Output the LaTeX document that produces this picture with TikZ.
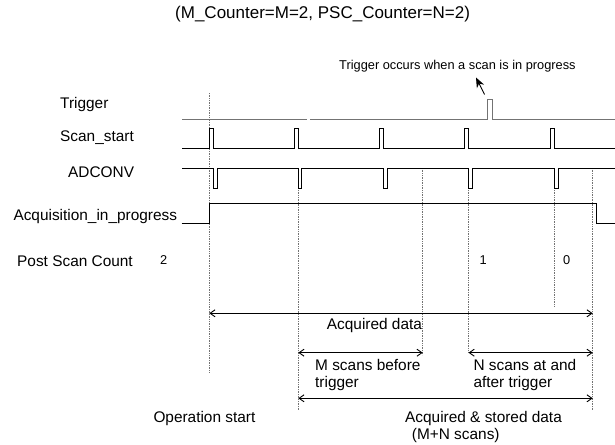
\documentclass[tikz,border=0pt]{standalone}
\usepackage{fontspec}
\setmainfont{Liberation Sans}
\usetikzlibrary{arrows.meta}
\begin{document}
\begin{tikzpicture}[x=1pt,y=-1pt,
  wave/.style={line width=1pt, black},
  trigwave/.style={line width=1pt, black!55},
  guide/.style={densely dotted, line width=0.7pt, black!55},
  dim/.style={line width=0.9pt, {Straight Barb[length=5pt,width=7pt]}-{Straight Barb[length=5pt,width=7pt]}},
  lbl/.style={font=\fontsize{15.4}{17}\selectfont, anchor=base west, inner sep=0pt},
  sml/.style={font=\fontsize{12.8}{14}\selectfont, anchor=base west, inner sep=0pt},
  ttl/.style={font=\fontsize{17}{19}\selectfont, anchor=base west, inner sep=0pt}]
\useasboundingbox (0,0) rectangle (615,444);

% title and annotation
\node[ttl] (title) at (175,18.5) {(M\_Counter=M=2, PSC\_Counter=N=2)};
\node[sml] (note) at (339,69.3) {Trigger occurs when a scan is in progress};
\coordinate (notetip) at (476,77.5);
\coordinate (notetail) at (484.5,94.5);
\draw[line width=0.9pt, -{Stealth[length=10pt,width=8pt]}] (notetail) -- (notetip);

% signal names
\node[lbl] (trig) at (60,108.3) {Trigger};
\node[lbl] (scan) at (60,141) {Scan\_start};
\node[lbl] (adc) at (68,177) {ADCONV};
\node[lbl] (acq) at (13.3,220) {Acquisition\_in\_progress};
\node[lbl] (psc) at (17,266.5) {Post Scan Count};
\node[sml] (c2) at (160,264.3) {2};
\node[sml] (c1) at (479.3,264.3) {1};
\node[sml] (c0) at (562.8,264.3) {0};

% guide lines
\draw[guide] (209.3,93) -- (209.3,372);
\draw[guide] (298.3,188.3) -- (298.3,410);
\draw[guide] (422.7,168) -- (422.7,355);
\draw[guide] (468.5,188.3) -- (468.5,352);
\draw[guide] (554,188.3) -- (554,307);
\draw[guide] (592.7,168) -- (592.7,410);

% waveforms
\draw[trigwave] (182,119.3) -- (306.5,119.3);
\draw[trigwave] (310,119.3) -- (487.7,119.3) |- (492.3,99.3) |- (615,119.3);
\draw[wave] (182,148.3) -- (209.3,148.3) |- (213.3,128.3) |- (294.3,148.3) |- (298.3,128.3)
  |- (379.7,148.3) |- (383.3,128.3) |- (464.7,148.3) |- (468.5,128.3)
  |- (550,148.3) |- (554,128.3) |- (615,148.3);
\draw[wave] (182,168) -- (213.3,168) |- (217.3,188.3) |- (298.3,168) |- (301.7,188.3)
  |- (383.3,168) |- (387,188.3) |- (468.5,168) |- (472.5,188.3)
  |- (554,168) |- (558,188.3) |- (615,168);
\draw[wave] (181.7,223.3) -- (209.3,223.3) |- (596,203.3) |- (615,223.3);

% span arrows
\coordinate (aL) at (209.3,313.3);
\coordinate (aR) at (592.7,313.3);
\coordinate (mL) at (298.3,352.7);
\coordinate (mR) at (422.7,352.7);
\coordinate (nL) at (468.5,352.7);
\coordinate (nR) at (592.7,352.7);
\coordinate (sL) at (298.3,398.3);
\coordinate (sR) at (592.7,398.3);
\draw[dim] (aL) -- (aR);
\draw[dim] (mL) -- (mR);
\draw[dim] (nL) -- (nR);
\draw[dim] (sL) -- (sR);

\node[lbl] (acqd) at (326.7,329.3) {Acquired data};
\node[lbl] (mtxt1) at (315,370.7) {M scans before};
\node[lbl] (mtxt2) at (315,387.3) {trigger};
\node[lbl] (ntxt1) at (473.3,370.7) {N scans at and};
\node[lbl] (ntxt2) at (473.3,387.3) {after trigger};
\node[lbl] (opst) at (153.3,422.3) {Operation start};
\node[lbl] (stor1) at (405,422.3) {Acquired \& stored data};
\node[lbl] (stor2) at (411.7,439.3) {(M+N scans)};
\end{tikzpicture}
\end{document}
